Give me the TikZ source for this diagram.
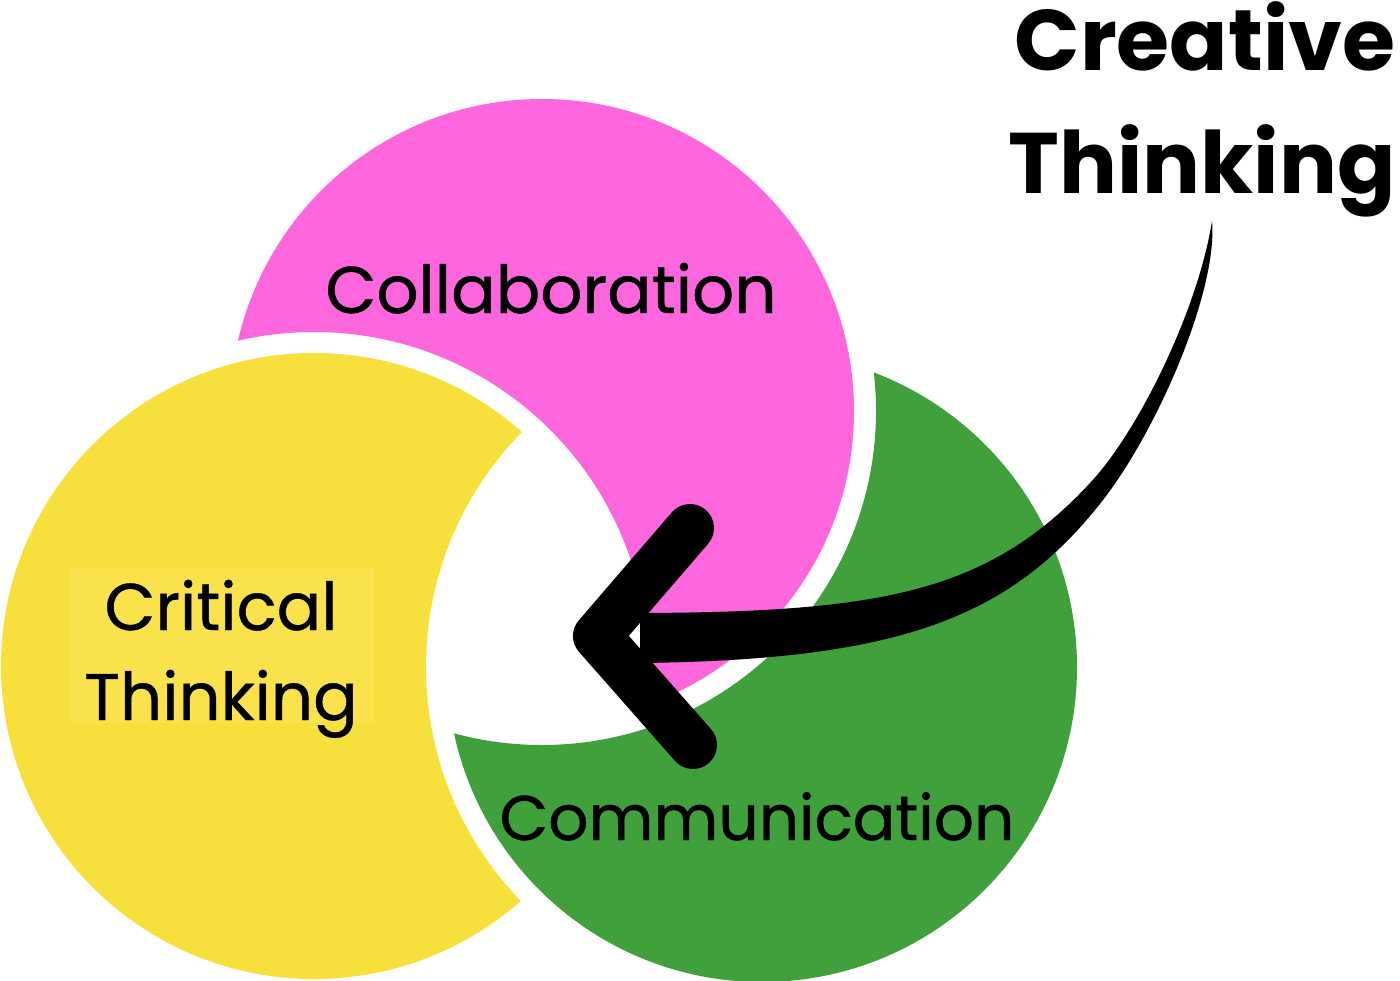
\documentclass[tikz,border=0pt]{standalone}
\usepackage{fontspec}
\setmainfont{Poppins}
\newfontfamily\labelfont{Poppins}[FakeBold=0.7]
\definecolor{cyel}{HTML}{F8E03C}
\definecolor{cyelb}{HTML}{F9E24B}
\definecolor{cpink}{HTML}{FD66DD}
\definecolor{cgreen}{HTML}{40A03B}
\tikzset{
  lbl/.style={anchor=base, inner sep=0pt, font=\labelfont\fontsize{66pt}{78pt}\selectfont, text=black},
  big/.style={anchor=base, inner sep=0pt, font=\bfseries\fontsize{86pt}{100pt}\selectfont, text=black},
  chevron/.style={line width=48pt, line cap=round, line join=round, black}
}
\begin{document}
\begin{tikzpicture}[x=1pt,y=-1pt]
\useasboundingbox (0,0) rectangle (1400,980);
\coordinate (Y) at (314,666);
\coordinate (P) at (542,411);
\coordinate (G) at (762,667);
% yellow minus dilated green
\begin{scope}
  \clip (Y) circle (313pt);
  \fill[cyel, even odd rule] (-20,-20) rectangle (1420,1000) (G) circle (336pt);
\end{scope}
% pink minus dilated yellow
\begin{scope}
  \clip (P) circle (312pt);
  \fill[cpink, even odd rule] (-20,-20) rectangle (1420,1000) (Y) circle (334pt);
\end{scope}
% green minus dilated pink
\begin{scope}
  \clip (G) circle (315pt);
  \fill[cgreen, even odd rule] (-20,-20) rectangle (1420,1000) (P) circle (334pt);
\end{scope}
% text background
\fill[cyelb] (70,568) rectangle (375,723);
% labels
\node[lbl] (collab) at (551,313) {Collaboration};
\node[lbl] (crit1) at (221,630) {Critical};
\node[lbl] (crit2) at (221,720) {Thinking};
\node[lbl, font=\labelfont\fontsize{63pt}{75pt}\selectfont] (comm) at (757,840) {Communication};
\node[big] (cre1) at (1205,70) {Creative};
\node[big] (cre2) at (1202,193) {Thinking};
% arrow shaft
\coordinate (tail) at (1212,221);
\coordinate (vtx) at (597,636);
\fill[black] (tail) .. controls (1198,310) and (1138,432) .. (1090,483)
  .. controls (988,593) and (880,612) .. (640,613)
  -- (640,663) .. controls (900,660) and (1011,618) .. (1103,500)
  .. controls (1158,429) and (1218,290) .. (tail) -- cycle;
% arrow head
\coordinate (armA) at (690,528);
\coordinate (armB) at (693,745);
\draw[chevron] (armA) -- (vtx) -- (armB);
\end{tikzpicture}
\end{document}
